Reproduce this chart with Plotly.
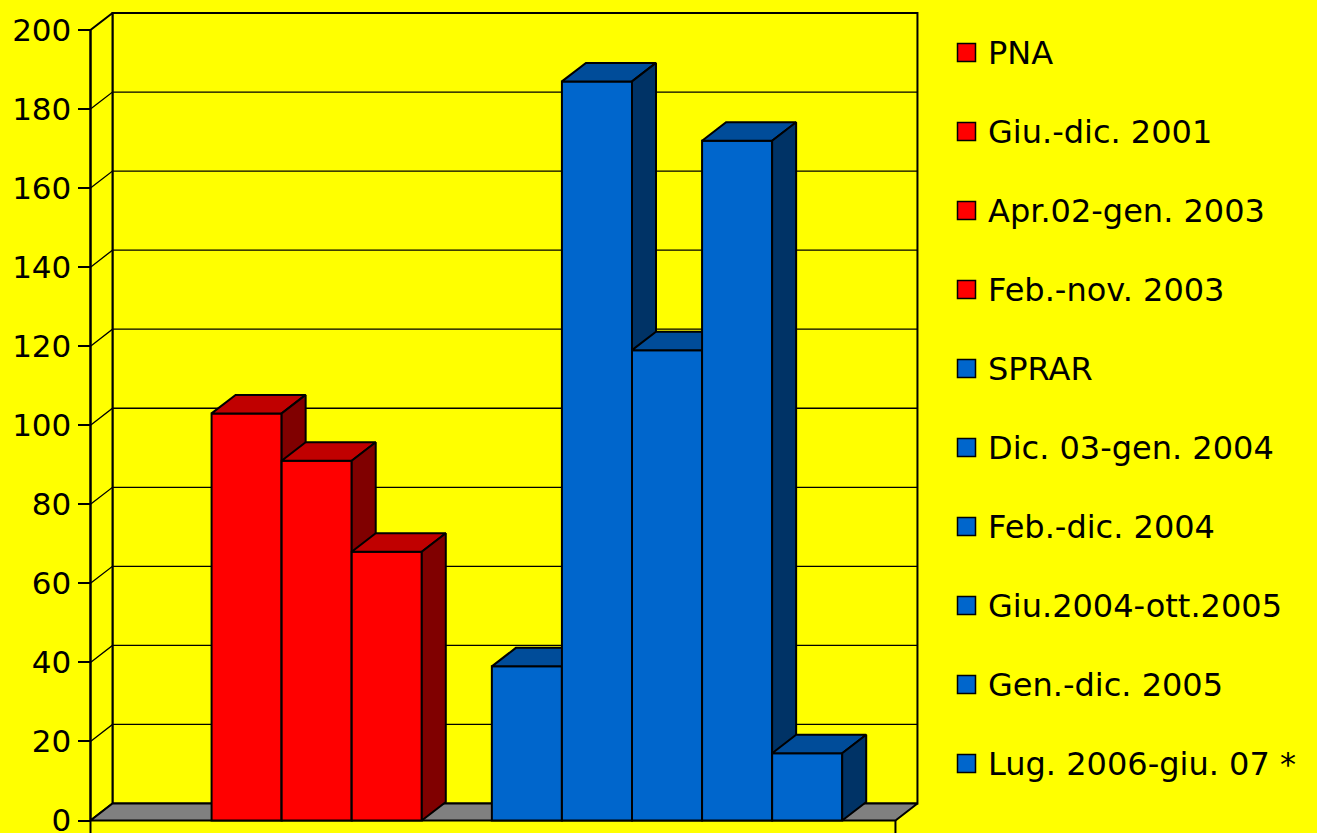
import plotly.graph_objects as go

# ---------------- data ----------------
categories = ["PNA", "Giu.-dic. 2001", "Apr.02-gen. 2003", "Feb.-nov. 2003",
              "SPRAR", "Dic. 03-gen. 2004", "Feb.-dic. 2004",
              "Giu.2004-ott.2005", "Gen.-dic. 2005", "Lug. 2006-giu. 07 *"]
values = [0, 103, 91, 68, 0, 39, 187, 119, 172, 17]
groups = ["PNA"] * 4 + ["SPRAR"] * 6
y_ticks = list(range(0, 201, 20))

# ---------------- style ----------------
FRONT = {"PNA": "#FF0000", "SPRAR": "#0066CC"}
TOP = {"PNA": "#C00000", "SPRAR": "#004C99"}
SIDE = {"PNA": "#800000", "SPRAR": "#003366"}
BG = "#FFFF00"
FLOOR = "#808080"
FONT = "DejaVu Sans"

W, H = 1317, 833
PXX = 70.07      # pixels per category slot
PXY = 3.9525     # pixels per value unit
AX_PX = 90.5     # pixel x of the front-left corner (value axis)
ZERO_PX = 820.5  # pixel y of value 0
X_LEFT = -0.728  # front-left corner in slot units
X_RIGHT = 10.76  # front-right corner in slot units
Y_MAX = y_ticks[-1]
WALL_DX, WALL_DY = 22 / PXX, 17 / PXY
BAR_DX, BAR_DY = 24 / PXX, 18.5 / PXY

x_range = [X_LEFT - 4 / PXX, X_RIGHT + WALL_DX + 4 / PXX]
y_range = [-(H - ZERO_PX) / PXY, Y_MAX + WALL_DY + 4 / PXY]
dom_x = [(AX_PX - 4) / W, (AX_PX + (x_range[1] - X_LEFT) * PXX) / W]
top_px = ZERO_PX - y_range[1] * PXY
dom_y = [0, (H - top_px) / H]

fig = go.Figure()


def poly(xs, ys, fill, z, width=2):
    fig.add_trace(go.Scatter(
        x=list(xs) + [xs[0]], y=list(ys) + [ys[0]], mode="lines",
        fill="toself" if fill else None, fillcolor=fill,
        line=dict(color="black", width=width), hoverinfo="skip",
        showlegend=False, zorder=z))


# walls and floor
bx0, bx1 = X_LEFT + WALL_DX, X_RIGHT + WALL_DX
poly([bx0, bx1, bx1, bx0], [WALL_DY, WALL_DY, Y_MAX + WALL_DY, Y_MAX + WALL_DY], BG, 0)
poly([X_LEFT, X_LEFT, bx0, bx0], [0, Y_MAX, Y_MAX + WALL_DY, WALL_DY], BG, 0)
poly([X_LEFT, X_RIGHT, bx1, bx0], [0, 0, WALL_DY, WALL_DY], FLOOR, 1)

# gridlines on side and back walls
gx, gy = [], []
for v in y_ticks[1:-1]:
    gx += [X_LEFT, bx0, bx1, None]
    gy += [v, v + WALL_DY, v + WALL_DY, None]
fig.add_trace(go.Scatter(x=gx, y=gy, mode="lines",
                         line=dict(color="black", width=1.3),
                         hoverinfo="skip", showlegend=False, zorder=2))

# value axis line and category axis end ticks
fig.add_trace(go.Scatter(x=[X_LEFT, X_LEFT, None, X_RIGHT, X_RIGHT],
                         y=[y_range[0], Y_MAX, None, y_range[0], 0],
                         mode="lines", line=dict(color="black", width=2),
                         hoverinfo="skip", showlegend=False, zorder=3))

# bars (front via Bar, top & side faces as polygons), painter's order
for i, (name, v, g) in enumerate(zip(categories, values, groups)):
    if v <= 0:
        continue
    z = 10 + 3 * i
    fig.add_trace(go.Bar(x=[i + 0.5], y=[v], width=1, name=name,
                         marker=dict(color=FRONT[g], line=dict(color="black", width=2)),
                         showlegend=False, zorder=z))
    poly([i, i + 1, i + 1 + BAR_DX, i + BAR_DX],
         [v, v, v + BAR_DY, v + BAR_DY], TOP[g], z + 1)
    poly([i + 1, i + 1, i + 1 + BAR_DX, i + 1 + BAR_DX],
         [0, v, v + BAR_DY, BAR_DY], SIDE[g], z + 2)

# ---------------- legend (own hidden axes) ----------------
LEG_X0 = 966.5   # pixel x of the legend square centres
LEG_Y0 = 52.5    # pixel y of first item
LEG_STEP = 79.0
idx = list(range(len(categories)))
fig.add_trace(go.Scatter(
    x=[0] * len(categories), y=idx, mode="markers",
    marker=dict(symbol="square", size=18,
                color=[FRONT[g] for g in groups],
                line=dict(color="black", width=1.5)),
    xaxis="x2", yaxis="y2", hoverinfo="skip", showlegend=False, cliponaxis=False))
for k, name in enumerate(categories):
    fig.add_annotation(x=19.5, y=k, xref="x2", yref="y2", text=name,
                       showarrow=False, xanchor="left", yanchor="middle",
                       font=dict(family=FONT, size=32, color="black"))

fig.update_layout(
    width=W, height=H, template="none",
    margin=dict(l=0, r=0, t=0, b=0, pad=0),
    paper_bgcolor=BG, plot_bgcolor=BG,
    showlegend=False, barmode="overlay",
    xaxis=dict(domain=dom_x, range=x_range, visible=False, fixedrange=True),
    yaxis=dict(domain=dom_y, range=y_range, anchor="free", position=AX_PX / W,
               tickvals=y_ticks, ticktext=[str(t) for t in y_ticks],
               ticks="outside", ticklen=13, tickwidth=2, tickcolor="black",
               tickfont=dict(family=FONT, size=31, color="black"),
               ticklabeloverflow="allow",
               showgrid=False, zeroline=False, showline=False,
               automargin=False, fixedrange=True),
    xaxis2=dict(domain=[940 / W, 1], range=[940 - LEG_X0, W - LEG_X0],
                visible=False, anchor="y2", fixedrange=True),
    yaxis2=dict(domain=[0, 1], range=[(H - LEG_Y0) / LEG_STEP, -LEG_Y0 / LEG_STEP],
                visible=False, anchor="x2", fixedrange=True),
)

fig.write_html("out.html",
               config={"displayModeBar": False, "staticPlot": False},
               post_script="document.body.style.margin='0';"
                           "document.body.style.overflow='hidden';"
                           "document.body.style.background='#FFFF00';")
